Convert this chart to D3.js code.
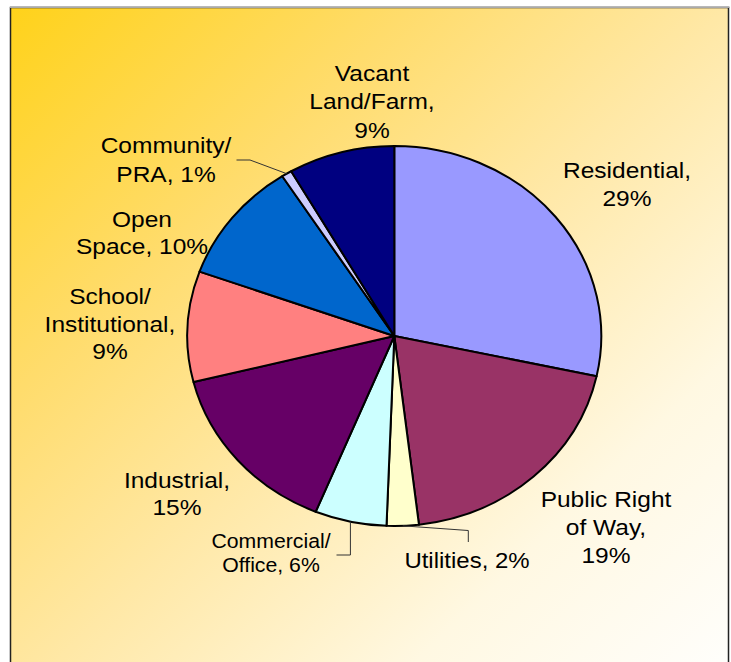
<!DOCTYPE html>
<html>
<head>
<meta charset="utf-8">
<script src="https://cdnjs.cloudflare.com/ajax/libs/d3/7.8.5/d3.min.js"></script>
<style>
  body { margin: 0; background: #fff; }
  text { font-family: "Liberation Sans", Arial, sans-serif; fill: #000; }
</style>
</head>
<body>
<div id="chart"></div>
<script>
// land use shares, clockwise from 12 o'clock
var categories = ['Residential', 'Public Right of Way', 'Utilities', 'Commercial/Office',
                  'Industrial', 'School/Institutional', 'Open Space', 'Community/PRA', 'Vacant Land/Farm'];
var shares = [28.4, 19.7, 2.5, 5.6, 14.9, 9.4, 10.4, 0.8, 8.3];
var labelLines = [
  ['Residential,', '29%'],
  ['Public Right', 'of Way,', '19%'],
  ['Utilities, 2%'],
  ['Commercial/', 'Office, 6%'],
  ['Industrial,', '15%'],
  ['School/', 'Institutional,', '9%'],
  ['Open', 'Space, 10%'],
  ['Community/', 'PRA, 1%'],
  ['Vacant', 'Land/Farm,', '9%']
];
var sliceColors = ['#9999FF', '#993366', '#FFFFCC', '#CCFFFF', '#660066',
                   '#FF8080', '#0066CC', '#CCCCFF', '#000080'];

var width = 731,
    height = 662,
    cx = 394.3,
    cy = 336,
    ry = 190,
    rx = 207,
    sx = rx / ry;

// label anchors: center x, first baseline, line step, font size
var labelLayout = [
  {x: 627, y: 178, step: 28, size: 22.5},
  {x: 606, y: 507, step: 28, size: 22.5},
  {x: 467, y: 568, step: 28, size: 22},
  {x: 271, y: 548, step: 24.5, size: 19.5},
  {x: 177, y: 488, step: 27, size: 22.5},
  {x: 110, y: 304, step: 27.7, size: 22.5},
  {x: 142, y: 227, step: 27.5, size: 22.5},
  {x: 166, y: 153, step: 29, size: 22.5},
  {x: 372, y: 81, step: 28.5, size: 22.5}
];

var svg = d3.select('#chart').append('svg')
    .attr('width', width)
    .attr('height', height);

var grad = svg.append('defs').append('linearGradient')
    .attr('id', 'bg')
    .attr('x1', 0).attr('y1', 0)
    .attr('x2', 1).attr('y2', 1);
[[0, '#FFD21A'], [0.28, '#FFDC6C'], [0.5, '#FFE8A6'], [0.75, '#FFF8E2'], [1, '#FFFFFF']]
  .forEach(function(s) {
    grad.append('stop').attr('offset', s[0]).attr('stop-color', s[1]);
  });

svg.append('rect')
    .attr('x', 10.5).attr('y', 7.5)
    .attr('width', 718).attr('height', 700)
    .attr('fill', 'url(#bg)')
    .attr('stroke', '#222')
    .attr('stroke-width', 1.5);
svg.append('line')
    .attr('x1', 10).attr('x2', 729.5)
    .attr('y1', 7.2).attr('y2', 7.2)
    .attr('stroke', '#aaa')
    .attr('stroke-width', 1.5);

var pie = d3.pie().sort(null).value(function(d) { return d; });
var arcs = pie(shares);

var arc = d3.arc().innerRadius(0).outerRadius(ry);

var pieG = svg.append('g')
    .attr('transform', 'translate(' + cx + ',' + cy + ') scale(' + sx + ',1)');

pieG.selectAll('path').data(arcs)
  .enter().append('path')
    .attr('d', arc)
    .attr('fill', function(d, i) { return sliceColors[i]; })
    .attr('stroke', '#000')
    .attr('stroke-width', 2)
    .attr('stroke-linejoin', 'round')
    .attr('vector-effect', 'non-scaling-stroke');

function edgePoint(a) {
  return [cx + rx * Math.sin(a), cy - ry * Math.cos(a)];
}
function midAngle(d) { return (d.startAngle + d.endAngle) / 2; }

// leader lines for the small slices
var leaders = [
  {i: 7, pts: function(p) { return [[236.5, 160], [250, 160], p]; }},
  {i: 3, pts: function(p) { return [[336.5, 555], [p[0], 555], p]; }},
  {i: 2, pts: function(p) { return [p, [468.3, 530.5], [468.3, 542]]; }}
];
leaders.forEach(function(l) {
  var p = edgePoint(midAngle(arcs[l.i]));
  svg.append('path')
      .attr('d', d3.line()(l.pts(p)))
      .attr('fill', 'none')
      .attr('stroke', '#333')
      .attr('stroke-width', 1);
});

var labels = svg.selectAll('g.label').data(arcs)
  .enter().append('g')
    .attr('class', 'label')
    .attr('transform', function(d, i) {
      return 'translate(' + labelLayout[i].x + ',' + labelLayout[i].y + ') scale(' + sx + ',1)';
    });

labels.each(function(d, i) {
  var g = d3.select(this);
  labelLines[i].forEach(function(line, j) {
    g.append('text')
        .attr('x', 0)
        .attr('y', j * labelLayout[i].step)
        .attr('text-anchor', 'middle')
        .style('font-size', labelLayout[i].size + 'px')
        .text(line);
  });
});
</script>
</body>
</html>
